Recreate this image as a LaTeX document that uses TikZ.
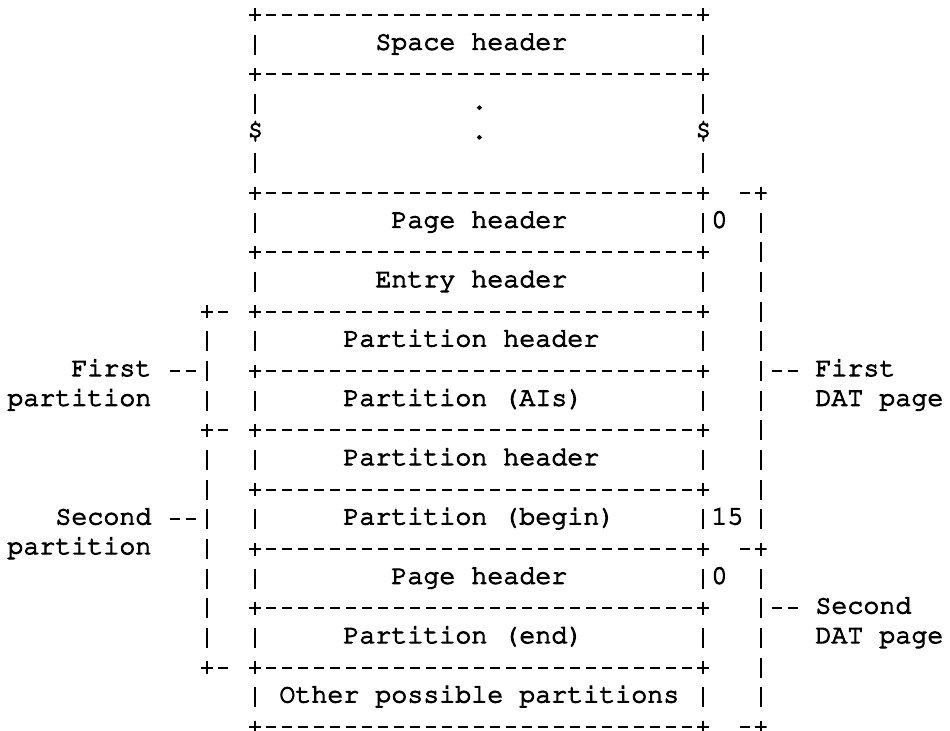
\documentclass[tikz,border=0pt]{standalone}
\usepackage[T1,TU]{fontenc}
\newcommand{\asciifont}{\fontencoding{T1}\fontfamily{pcr}\fontsize{13.33pt}{14pt}\selectfont}
\tikzset{
    txt/.style={font=\asciifont, inner sep=0pt, anchor=base west, % one character = one cell
        execute at begin node=\special{pdf:literal direct q 2 Tr 0.5 w},
        execute at end node=\special{pdf:literal direct Q}}, % heavier, like the typewriter
    plus/.style={inner sep=0pt, minimum width=6pt, minimum height=6.5pt,
        path picture={\draw[line width=1.1pt] (path picture bounding box.west) -- (path picture bounding box.east)
            (path picture bounding box.north) -- (path picture bounding box.south);}},
    bar/.style={inner sep=0pt, minimum width=1.1pt, minimum height=10pt, fill=black},
    rule/.style={line width=1.1pt, dash pattern=on 5pt off 3pt, dash phase=2.5pt}, % the ---- lines
    lead/.style={line width=1.1pt, dash pattern=on 0pt off 5.5pt on 5pt off 3pt on 5pt off 20pt} % the -- leaders
}

\begin{document}
\begin{tikzpicture}[x=8pt, y=-14.835pt]
    \useasboundingbox (-0.9375,-0.5056) rectangle (58.4375,24.13);

    % the stack of records
    \foreach \r in {0,2,6,8,10,12,14,16,18,20,22,24} {
        \node[plus] (pl\r) at (15,\r) {};
        \node[plus] (pr\r) at (43,\r) {};
        \draw[rule] (pl\r.center) -- (pr\r.center);
    }
    \foreach \r in {1,3,...,23} {
        \node[bar] (bl\r) at (15,\r) {};
        \node[bar] (br\r) at (43,\r) {};
    }

    \node[txt] (space) at (22.5,1.17) {Space header};
    \node[txt] (dota) at (28.5,3.17) {.};
    \node[txt] (dotb) at (28.5,4.17) {.};
    \node[txt] (cutl) at (14.5,4.17) {\$};
    \node[txt] (cutr) at (42.5,4.17) {\$};
    \node[txt] (page1) at (23.5,7.17) {Page header};
    \node[txt] (entry) at (22.5,9.17) {Entry header};
    \node[txt] (phead1) at (20.5,11.17) {Partition header};
    \node[txt] (pais) at (20.5,13.17) {Partition (AIs)};
    \node[txt] (phead2) at (20.5,15.17) {Partition header};
    \node[txt] (pbegin) at (20.5,17.17) {Partition (begin)};
    \node[txt] (page2) at (23.5,19.17) {Page header};
    \node[txt] (pend) at (20.5,21.17) {Partition (end)};
    \node[txt] (other) at (16.5,23.17) {Other possible partitions};

    \node[txt] (off1) at (43.5,7.17) {0};
    \node[txt] (off2) at (43.5,17.17) {15};
    \node[txt] (off3) at (43.5,19.17) {0};

    % partitions, left
    \foreach \r in {10,14,22} {
        \node[plus] (lp\r) at (12,\r) {};
        \draw[rule] (lp\r.center) -- ++(1.5,0);
    }
    \foreach \r in {11,12,13,15,16,17,18,19,20,21}
        \node[bar] (lb\r) at (12,\r) {};

    \node[txt] (first1) at (3.5,12.17) {First};
    \node[txt] (part1) at (-0.5,13.17) {partition};
    \node[txt] (second1) at (2.5,17.17) {Second};
    \node[txt] (part2) at (-0.5,18.17) {partition};
    \draw[lead] (lb12.center) -- (first1.east |- lb12.center);
    \draw[lead] (lb17.center) -- (second1.east |- lb17.center);

    % DAT pages, right
    \foreach \r in {6,18,24} {
        \node[plus] (rp\r) at (46.6,\r) {};
        \draw[rule] (rp\r.center) -- ++(-1.5,0);
    }
    \foreach \r in {7,8,9,10,11,12,13,14,15,16,17,19,20,21,22,23}
        \node[bar] (rb\r) at (46.6,\r) {};

    \node[txt] (first2) at (50,12.17) {First};
    \node[txt] (dat1) at (50,13.17) {DAT page};
    \node[txt] (second2) at (50,20.17) {Second};
    \node[txt] (dat2) at (50,21.17) {DAT page};
    \draw[lead] (rb12.center) -- (first2.west |- rb12.center);
    \draw[lead] (rb20.center) -- (second2.west |- rb20.center);
\end{tikzpicture}
\end{document}
